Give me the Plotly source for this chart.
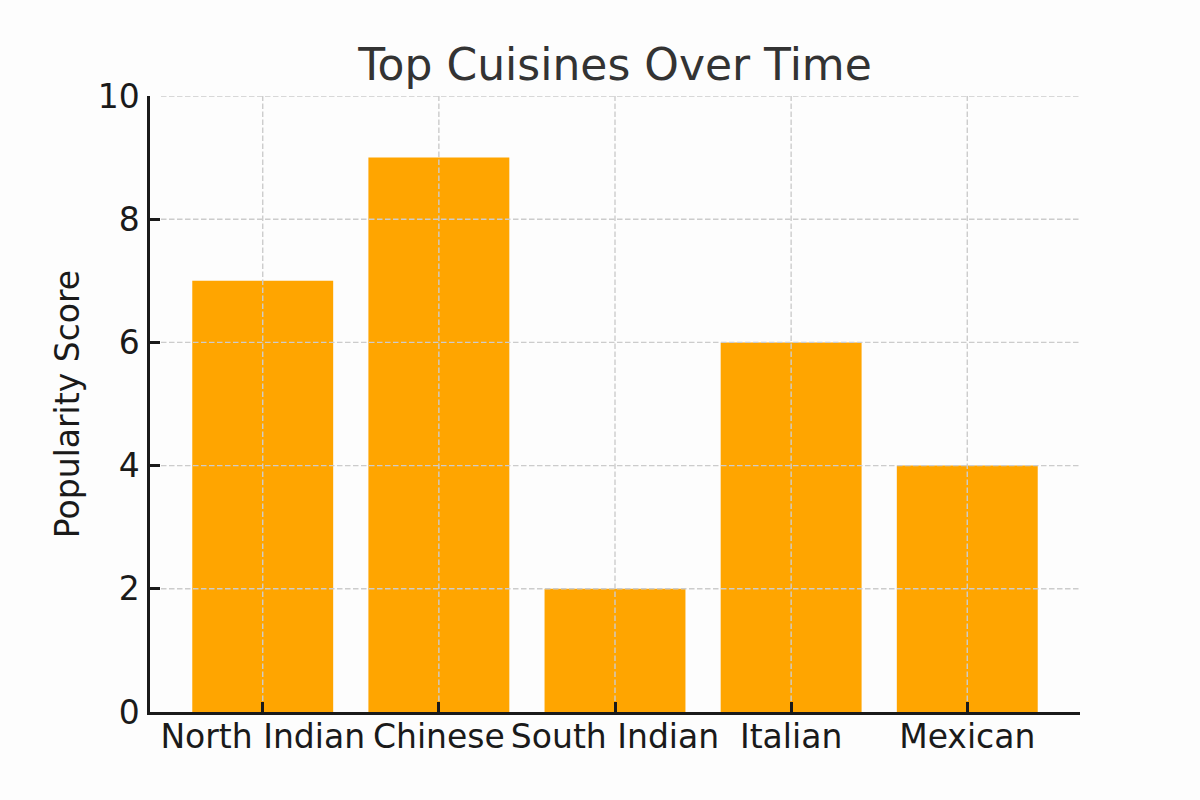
import plotly.graph_objects as go

cuisines = ["North Indian", "Chinese", "South Indian", "Italian", "Mexican"]
scores = [7, 9, 2, 6, 4]
y_ticks = [0, 2, 4, 6, 8, 10]

FONT = "DejaVu Sans"
BG = "#fdfdfd"
W, H = 1200, 800
ML, MR, MT, MB = 150, 120, 96, 88
TICKLEN = 10

fig = go.Figure(go.Bar(x=list(range(len(cuisines))), y=scores, marker=dict(color="#ffa500", line=dict(width=0)), width=0.8))

shapes = []
grid = dict(color="#cccccc", width=1.4, dash="5.5px,2.5px")
gx0 = (TICKLEN + 1) / (W - ML - MR)
gy0 = (TICKLEN + 1) / (H - MT - MB)
for v in y_ticks[1:]:
    shapes.append(dict(type="line", xref="paper", x0=gx0, x1=1, yref="y", y0=v, y1=v, line=grid, layer="above"))
for i in range(len(cuisines)):
    shapes.append(dict(type="line", xref="x", x0=i, x1=i, yref="paper", y0=gy0, y1=1, line=grid, layer="above"))

fig.update_layout(
    width=W, height=H,
    margin=dict(l=ML, r=MR, t=MT, b=MB),
    paper_bgcolor=BG, plot_bgcolor=BG,
    title=dict(text="Top Cuisines Over Time", xref="paper", x=0.5, xanchor="center", y=1 - 65/800, yanchor="middle",
               font=dict(family=FONT, size=44, color="#333333")),
    font=dict(family=FONT, color="#1a1a1a"),
    showlegend=False,
    shapes=shapes,
    bargap=0.2,
)
fig.update_xaxes(
    range=[-0.64, len(cuisines) - 1 + 0.64],
    tickmode="array", tickvals=list(range(len(cuisines))), ticktext=cuisines,
    showgrid=False, zeroline=False,
    showline=True, linecolor="#1a1a1a", linewidth=2.5,
    ticks="inside", ticklen=TICKLEN, tickwidth=2.5, tickcolor="#1a1a1a",
    tickfont=dict(family=FONT, size=33, color="#1a1a1a"),
    ticklabelstandoff=-6,
    layer="above traces",
)
fig.update_yaxes(
    range=[0, 10], tickmode="array", tickvals=y_ticks,
    showgrid=False, zeroline=False,
    showline=True, linecolor="#1a1a1a", linewidth=2.5,
    ticks="inside", ticklen=TICKLEN, tickwidth=2.5, tickcolor="#1a1a1a",
    tickfont=dict(family=FONT, size=33, color="#1a1a1a"),
    ticklabelstandoff=1,
    title=dict(text="Popularity Score", font=dict(family=FONT, size=33, color="#1a1a1a"), standoff=9),
    layer="above traces",
)

fig.write_html("out.html")
